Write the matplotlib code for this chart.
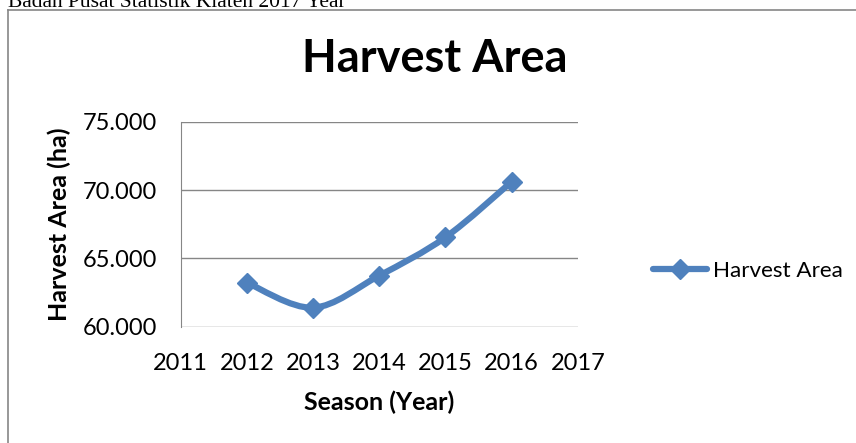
import matplotlib
matplotlib.use("Agg")
import matplotlib.pyplot as plt
from matplotlib.path import Path
from matplotlib.patches import PathPatch
from matplotlib.lines import Line2D
from matplotlib.ticker import FuncFormatter

# Data
years = [2012, 2013, 2014, 2015, 2016]
harvest_area = [63240, 61410, 63750, 66550, 70610]
year_ticks = [2011, 2012, 2013, 2014, 2015, 2016, 2017]
area_ticks = [60000, 65000, 70000, 75000]

BLUE = "#4F81BD"
GRID = "#868686"
FONT = "Lato"


def smooth_path(xs, ys):
    """Excel-like smoothed line: cubic Bezier through every point."""
    n = len(xs)
    verts = [(xs[0], ys[0])]
    codes = [Path.MOVETO]
    for i in range(n - 1):
        x0, y0 = (xs[i - 1], ys[i - 1]) if i > 0 else (xs[i], ys[i])
        x3, y3 = (xs[i + 2], ys[i + 2]) if i + 2 < n else (xs[i + 1], ys[i + 1])
        c1 = (xs[i] + (xs[i + 1] - x0) / 6, ys[i] + (ys[i + 1] - y0) / 6)
        c2 = (xs[i + 1] - (x3 - xs[i]) / 6, ys[i + 1] - (y3 - ys[i]) / 6)
        verts += [c1, c2, (xs[i + 1], ys[i + 1])]
        codes += [Path.CURVE4] * 3
    return Path(verts, codes)


fig = plt.figure(figsize=(8.56, 4.43), dpi=100)
ax = fig.add_axes([0.2109, 0.2619, 0.4643, 0.4638])

# chart frame (only left and top edges visible in the crop)
fig.add_artist(Line2D([8 / 856, 8 / 856], [0, 1 - 10 / 443], transform=fig.transFigure,
                      color=GRID, lw=1.2))
fig.add_artist(Line2D([8 / 856, 1], [1 - 10 / 443, 1 - 10 / 443], transform=fig.transFigure,
                      color=GRID, lw=1.2))

# clipped caption above the chart (cut off at the top edge, as in the source)
fig.text(8 / 856, 1 - 7 / 443, "Badan Pusat Statistik Klaten 2017 Year",
         family="Liberation Serif", fontsize=15.5, va="baseline", ha="left")

ax.add_patch(PathPatch(smooth_path(years, harvest_area), fill=False,
                       edgecolor=BLUE, lw=4.5, capstyle="round", joinstyle="round"))
ax.plot(years, harvest_area, ls="none", marker="D", ms=10, color=BLUE)

ax.set_xlim(2011, 2017)
ax.set_ylim(60000, 75000)
ax.set_xticks(year_ticks)
ax.set_yticks(area_ticks)
ax.yaxis.set_major_formatter(FuncFormatter(lambda v, p: f"{v:,.0f}".replace(",", ".")))
ax.grid(axis="y", color=GRID, lw=1)
ax.set_axisbelow(True)
ax.tick_params(length=0, labelsize=17)
for lab in ax.get_xticklabels() + ax.get_yticklabels():
    lab.set_family(FONT)
ax.tick_params(axis="x", pad=19)
ax.tick_params(axis="y", pad=17)

for s in ["top", "right", "bottom"]:
    ax.spines[s].set_visible(False)
ax.spines["left"].set_color(GRID)

ax.set_xlabel("Season (Year)", family=FONT, fontsize=18, fontweight="bold", labelpad=12)
ax.set_ylabel("Harvest Area (ha)", family=FONT, fontsize=18, fontweight="bold", labelpad=8)
fig.text(435 / 856, 1 - 59 / 443, "Harvest Area", family=FONT, fontsize=32.5,
         fontweight="bold", ha="center", va="center")

handle = Line2D([], [], color=BLUE, lw=4.5, marker="D", ms=10, solid_capstyle="round")
fig.legend([handle], ["Harvest Area"], loc="center left", bbox_to_anchor=(642 / 856, 1 - 271 / 443),
           frameon=False, prop={"family": FONT, "size": 16.2}, handlelength=2.4,
           handletextpad=0.25, borderpad=0)

fig.savefig("out.png", dpi=100)
